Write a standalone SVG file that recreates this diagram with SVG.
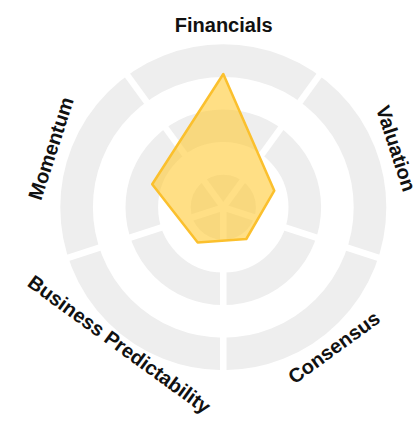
<svg xmlns="http://www.w3.org/2000/svg" width="419" height="424" viewBox="0 0 419 424">
<style>
.ring{fill:none;stroke:#eeeeee;stroke-width:32.6}
.spoke{stroke:#ffffff;stroke-width:6.5}
.lbl{font-family:"Liberation Sans",Arial,sans-serif;font-weight:bold;font-size:20px;fill:#111111;text-anchor:middle}
.area{fill:#ffc933;fill-opacity:0.6;stroke:#fbc02d;stroke-width:2.5;stroke-linejoin:round}
</style>
<rect width="419" height="424" fill="#ffffff"/>
<g id="grid">
<circle cx="223.3" cy="207.3" r="16.3" class="ring"/>
<circle cx="223.3" cy="207.3" r="81.5" class="ring"/>
<circle cx="223.3" cy="207.3" r="146.7" class="ring"/>
</g>
<g id="connectors">
<line class="spoke" x1="223.3" y1="207.3" x2="320.3" y2="73.8"/>
<line class="spoke" x1="223.3" y1="207.3" x2="380.2" y2="258.3"/>
<line class="spoke" x1="223.3" y1="207.3" x2="223.3" y2="372.3"/>
<line class="spoke" x1="223.3" y1="207.3" x2="66.4" y2="258.3"/>
<line class="spoke" x1="223.3" y1="207.3" x2="126.3" y2="73.8"/>
</g>
<g id="score">
<polygon class="area" points="223.3,74 274.3,190.7 246.3,239 197.7,242.5 152.2,184.2"/>
</g>
<g id="financials"><text class="lbl" transform="translate(223.7,32.3)">Financials</text></g>
<g id="valuation"><text class="lbl" transform="translate(389.5,150.5) rotate(72)">Valuation</text></g>
<g id="momentum"><text class="lbl" transform="translate(57.6,150.5) rotate(-72)">Momentum</text></g>
<g id="consensus"><text class="lbl" transform="translate(338,353) rotate(-36)">Consensus</text></g>
<g id="business-predictability"><text class="lbl" transform="translate(115.3,349.9) rotate(36)">Business Predictability</text></g>
</svg>
